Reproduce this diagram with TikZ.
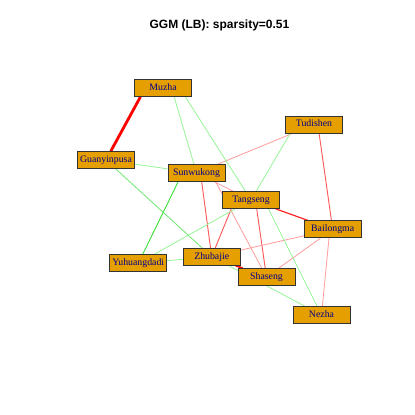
\documentclass[tikz,border=0pt]{standalone}
\usepackage{fontspec}
\setmainfont{Liberation Serif}
\newfontfamily\titlefont{Liberation Sans}
\usetikzlibrary{backgrounds}

\definecolor{boxorange}{RGB}{230,159,0}
\definecolor{labelblue}{RGB}{0,0,139}
\definecolor{posweak}{RGB}{150,245,150}
\definecolor{posmid}{RGB}{110,232,110}
\definecolor{posstrong}{RGB}{55,225,55}
\definecolor{negweak}{RGB}{255,155,155}
\definecolor{negmid}{RGB}{255,85,85}

\tikzset{
  vertex/.style={draw=black!80, line width=0.8pt, fill=boxorange, text=labelblue,
    minimum width=57pt, minimum height=17pt, inner sep=0pt,
    text height=6.6pt, text depth=2pt, font=\fontsize{9.8}{11}\selectfont},
  posedge/.style={posweak, line width=0.8pt},
  posedgemid/.style={posmid, line width=0.8pt},
  posedgestrong/.style={posstrong, line width=0.9pt},
  negedge/.style={negweak, line width=0.8pt},
  negedgemid/.style={negmid, line width=0.9pt},
  negedgestrong/.style={red!85!white, line width=1.2pt},
  negedgeshort/.style={red, line width=1.8pt},
  negedgethick/.style={red, line width=2.8pt}
}

\begin{document}
\begin{tikzpicture}[x=1pt, y=-1pt]
    \useasboundingbox (0,0) rectangle (415,415);

    % Plot title
    \node[anchor=base, font=\titlefont\bfseries\fontsize{12}{14}\selectfont] (title) at (219.5,28) {GGM (LB): sparsity=0.51};

    % Vertices (label boxes)
    \node[vertex] (muzha)       at (163,88)    {Muzha};
    \node[vertex] (tudishen)    at (314,124.5) {Tudishen};
    \node[vertex] (guanyinpusa) at (106,160)   {Guanyinpusa};
    \node[vertex] (sunwukong)   at (196.5,173) {Sunwukong};
    \node[vertex] (tangseng)    at (251,200)   {Tangseng};
    \node[vertex] (bailongma)   at (332.7,229.3) {Bailongma};
    \node[vertex] (zhubajie)    at (211.7,256.7) {Zhubajie};
    \node[vertex] (yuhuangdadi) at (138.3,263.3) {Yuhuangdadi};
    \node[vertex] (shaseng)     at (266.5,277) {Shaseng};
    \node[vertex] (nezha)       at (321.5,315) {Nezha};

    \begin{scope}[on background layer]
        % Negative partial correlations (red)
        \draw[negedgethick]  ([xshift=-22.6pt]muzha.south) -- (guanyinpusa);
        \draw[negedgestrong] (tangseng) -- (bailongma);
        \draw[negedgeshort]  (zhubajie) -- (shaseng);
        \draw[negedgemid] ([xshift=5.2pt]sunwukong.south) -- (zhubajie);
        \draw[negedgemid] ([xshift=5.1pt]tudishen.south) -- (bailongma);
        \draw[negedgemid] ([xshift=5.7pt]tangseng.south) -- (shaseng);
        \draw[negedgemid] ([xshift=-19.8pt]tangseng.south) -- (zhubajie);
        \draw[negedge] (sunwukong) -- (tangseng);
        \draw[negedge] ([xshift=19.2pt]sunwukong.south) -- (shaseng);
        \draw[negedge] (sunwukong) -- (tudishen);
        \draw[negedge] (bailongma) -- (zhubajie);
        \draw[negedge] (bailongma) -- (shaseng);
        \draw[negedge] ([xshift=-3.7pt]bailongma.south) -- (nezha);

        % Positive partial correlations (green)
        \draw[posedgestrong] ([xshift=-18.4pt]sunwukong.south) -- (yuhuangdadi);
        \draw[posedgemid] (guanyinpusa) -- (zhubajie);
        \draw[posedge] ([xshift=11.2pt]muzha.south) -- (sunwukong);
        \draw[posedge] ([xshift=22.4pt]muzha.south) -- (tangseng);
        \draw[posedge] (guanyinpusa) -- (sunwukong);
        \draw[posedge] ([xshift=-23.8pt]tudishen.south) -- (tangseng);
        \draw[posedge] (tangseng) -- (yuhuangdadi);
        \draw[posedge] ([xshift=17.5pt]tangseng.south) -- (nezha);
        \draw[posedge] (zhubajie) -- (yuhuangdadi);
        \draw[posedge] (zhubajie) -- (nezha);
    \end{scope}

\end{tikzpicture}
\end{document}
